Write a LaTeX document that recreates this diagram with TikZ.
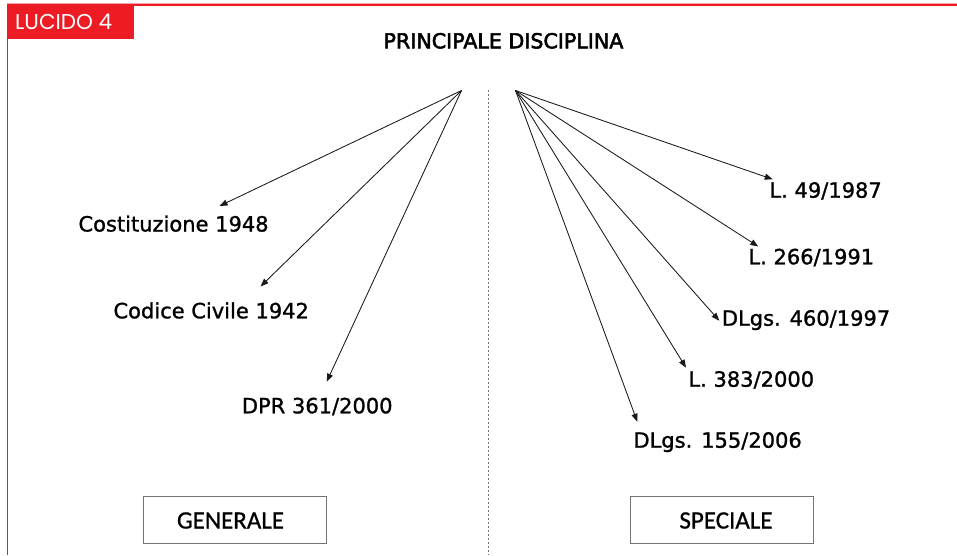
\documentclass[tikz,border=0pt]{standalone}
\usepackage{fontspec}
\usetikzlibrary{arrows.meta}
\setmainfont[FakeBold=1.2]{DejaVu Sans}
\newfontfamily\titlefont[FakeBold=2.6]{DejaVu Sans}
\newfontfamily\boxfont[FakeBold=0.8]{Carlito}
\newfontfamily\tabfont{Poppins}
\definecolor{slidered}{HTML}{ED1C24}
\definecolor{slidepink}{HTML}{F4A3A6}
\tikzset{
  law/.style={anchor=base west, inner sep=0pt, font=\fontsize{21}{21}\selectfont, text=black},
  link/.style={draw=black!90, line width=0.85pt, -{Triangle[length=8pt,width=6pt]}},
  groupbox/.style={draw=black!55, line width=1pt, minimum width=183pt, minimum height=46.5pt,
    inner sep=0pt, font=\boxfont\fontsize{25}{25}\selectfont, text=black},
}
\begin{document}
\begin{tikzpicture}[x=1pt,y=-1pt]
\useasboundingbox (0,0) rectangle (957,555);
\fill[white] (0,0) rectangle (957,555);
% frame and tab
\fill[slidepink] (7,2.6) rectangle (957,4);
\fill[slidered] (7,4) rectangle (957,5.6);
\fill[slidered] (6.6,4) rectangle (8.2,555);
\fill[slidered] (6.6,4) rectangle (134,38.7);
\node[anchor=base west, inner sep=0pt, text=white, font=\tabfont\fontsize{21.5}{21.5}\selectfont] (tab) at (15,29.5) {LUCIDO 4};
% title
\node[anchor=base, inner sep=0pt, text=black, font=\titlefont\fontsize{20.6}{20.6}\selectfont] (title) at (503.5,48.3) {PRINCIPALE DISCIPLINA};
% divider
\coordinate (divtop) at (488.3,90);
\coordinate (divbot) at (488.3,555);
\draw[black!55, line width=0.8pt, dash pattern=on 2pt off 2pt] (divtop) -- (divbot);
% sources
\coordinate (apexL) at (461.5,90.5);
\coordinate (apexR) at (515.5,90.5);
\node[law] (cost) at (78.3,231.5) {Costituzione 1948};
\node[law] (cc) at (113.3,318.3) {Codice Civile 1942};
\node[law] (dpr) at (241.7,413.3) {DPR 361/2000};
\node[law] (l49) at (769.3,197.7) {L. 49/1987};
\node[law] (l266) at (748.3,264.3) {L. 266/1991};
\node[law] (dl460) at (721.7,325.7) {DLgs. 460/1997};
\node[law] (l383) at (688.3,386.7) {L. 383/2000};
\node[law] (dl155) at (633.3,447.7) {DLgs. 155/2006};
% arrow tips
\coordinate (tcost) at (219.5,206);
\coordinate (tcc) at (260.5,286.5);
\coordinate (tdpr) at (326.7,381.7);
\coordinate (tl49) at (772.7,179.3);
\coordinate (tl266) at (758.3,246.5);
\coordinate (tdl460) at (719.3,320.7);
\coordinate (tl383) at (686,367.7);
\coordinate (tdl155) at (637.3,421.7);
\draw[link] (apexL) -- (tcost);
\draw[link] (apexL) -- (tcc);
\draw[link] (apexL) -- (tdpr);
\draw[link] (apexR) -- (tl49);
\draw[link] (apexR) -- (tl266);
\draw[link] (apexR) -- (tdl460);
\draw[link] (apexR) -- (tl383);
\draw[link] (apexR) -- (tdl155);
% groups
\node[groupbox] (gen) at (234.7,520) {};
\node[groupbox] (spec) at (722,520) {};
\node[inner sep=0pt, font=\boxfont\fontsize{25}{25}\selectfont, text=black] (gent) at (230.5,520.5) {GENERALE};
\node[inner sep=0pt, font=\boxfont\fontsize{25}{25}\selectfont, text=black] (spect) at (726,520.5) {SPECIALE};
\end{tikzpicture}
\end{document}
